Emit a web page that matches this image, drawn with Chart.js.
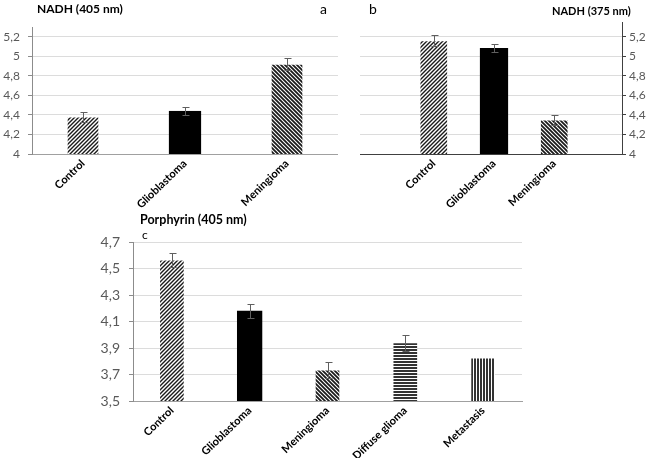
<!DOCTYPE html>
<html><head><meta charset="utf-8">
<script src="https://cdn.jsdelivr.net/npm/chart.js@4.4.1/dist/chart.umd.min.js"></script>
<style>
html,body{margin:0;padding:0;background:#fff;}
body{width:660px;height:458px;position:relative;overflow:hidden;font-family:Lato,'Liberation Sans',sans-serif;}
canvas{position:absolute;}
.t{position:absolute;white-space:nowrap;color:#000;font-family:Lato,'Liberation Sans',sans-serif;line-height:1;}
</style></head><body>
<canvas id="ca" width="338" height="215" style="left:0;top:0"></canvas>
<canvas id="cb" width="320" height="215" style="left:340px;top:0"></canvas>
<canvas id="cc" width="440" height="253" style="left:93px;top:205px"></canvas>
<div class="t" style="left:37px;top:3px;font-size:12px;font-weight:bold">NADH (405 nm)</div>
<div class="t" style="left:320px;top:2px;font-size:14px">a</div>
<div class="t" style="left:369px;top:2px;font-size:14px">b</div>
<div class="t" style="left:552px;top:5px;font-size:11px;font-weight:bold">NADH (375 nm)</div>
<div class="t" style="left:140px;top:214px;font-size:12.5px;font-weight:bold">Porphyrin (405 nm)</div>
<div class="t" style="left:142px;top:229px;font-size:12px">c</div>
<script>
// ---- data ----
const catsAB = ['Control', 'Glioblastoma', 'Meningioma'];
const nadh405 = [4.38, 4.44, 4.92];
const nadh405Err = [0.05, 0.045, 0.06];
const nadh375 = [5.16, 5.08, 4.35];
const nadh375Err = [0.055, 0.04, 0.05];
const nadhTicks = [4, 4.2, 4.4, 4.6, 4.8, 5, 5.2];

const catsC = ['Control', 'Glioblastoma', 'Meningioma', 'Diffuse glioma', 'Metastasis'];
const porphyrin = [4.565, 4.18, 3.735, 3.94, 3.825];
const porphyrinErr = [0.052, 0.055, 0.058, 0.06, 0];
const porphyrinTicks = [3.5, 3.7, 3.9, 4.1, 4.3, 4.5, 4.7];

const fillsAB = ['diagUp', 'solid', 'diagDown'];
const fillsC = ['diagUp', 'solid', 'diagDown', 'horiz', 'vert'];

// ---- helpers ----
function makePattern(ctx, type) {
  if (type === 'solid') return '#000';
  const s = (type === 'horiz' || type === 'vert') ? 3 : 4;
  const c = document.createElement('canvas'); c.width = s; c.height = s;
  const g = c.getContext('2d');
  g.fillStyle = '#fff'; g.fillRect(0, 0, s, s);
  g.fillStyle = '#333'; g.strokeStyle = '#1a1a1a';
  if (type === 'horiz') { g.fillRect(0, 0, s, 2); }
  else if (type === 'vert') { g.fillRect(0, 0, 2, s); }
  else if (type === 'diagUp') {
    g.lineWidth = 1.4; g.beginPath();
    g.moveTo(0, s); g.lineTo(s, 0); g.moveTo(-1, 1); g.lineTo(1, -1); g.moveTo(s - 1, s + 1); g.lineTo(s + 1, s - 1);
    g.stroke();
  } else if (type === 'diagDown') {
    g.lineWidth = 1.8; g.beginPath();
    g.moveTo(0, 0); g.lineTo(s, s); g.moveTo(-1, s - 1); g.lineTo(1, s + 1); g.moveTo(s - 1, -1); g.lineTo(s + 1, 1);
    g.stroke();
  }
  return ctx.createPattern(c, 'repeat');
}
const fmt = v => String(+(+v).toFixed(2)).replace('.', ',');
const FONT = "Lato, 'Liberation Sans', sans-serif";

const errorBars = {
  id: 'errorBars',
  afterDatasetsDraw(chart, args, opts) {
    const errs = opts.errors; if (!errs) return;
    const meta = chart.getDatasetMeta(0);
    const ys = chart.scales.y; const ctx = chart.ctx;
    const vals = chart.data.datasets[0].data;
    ctx.save(); ctx.strokeStyle = opts.color || '#5f5f5f'; ctx.lineWidth = 1;
    meta.data.forEach((el, i) => {
      const e = errs[i]; if (!e) return;
      const v = (typeof vals[i] === 'object') ? vals[i].y : vals[i];
      const x = Math.round(el.x) + 0.5;
      const yt = Math.round(ys.getPixelForValue(v + e)) + 0.5;
      const yb = Math.round(ys.getPixelForValue(v - e)) + 0.5;
      ctx.beginPath();
      ctx.moveTo(x, yt); ctx.lineTo(x, yb);
      ctx.moveTo(x - 3, yt); ctx.lineTo(x + 4, yt);
      ctx.moveTo(x - 3, yb); ctx.lineTo(x + 4, yb);
      ctx.stroke();
    });
    ctx.restore();
  }
};
Chart.register(errorBars);

function yAxis(ticksArr, max, pos, width, fontSize, pad, borderColor) {
  return {
    type: 'linear', position: pos, min: ticksArr[0], max: max,
    afterBuildTicks: s => { s.ticks = ticksArr.map(v => ({ value: v })); },
    afterFit: s => { s.width = width; },
    grid: { color: '#dcdcdc', tickColor: borderColor, tickLength: 4, drawTicks: true },
    border: { display: true, color: borderColor, width: 1 },
    ticks: { color: '#595959', font: { family: FONT, size: fontSize }, padding: pad, callback: v => fmt(v) }
  };
}
const xTicks = (extra) => Object.assign({ color: '#000', font: { family: FONT, size: 11, weight: 'bold' },
  minRotation: 44, maxRotation: 44, padding: 3 }, extra || {});
const xGrid = { display: false, drawTicks: false, tickLength: 0 };

const common = (errs, x, y, padding) => ({
  responsive: false, animation: false,
  layout: { padding: padding },
  plugins: { legend: { display: false }, tooltip: { enabled: false }, errorBars: { errors: errs } },
  scales: { x: x, y: y }
});

// Chart a
(function () {
  const ctx = document.getElementById('ca').getContext('2d');
  new Chart(ctx, {
    type: 'bar',
    data: { labels: catsAB, datasets: [{ data: nadh405,
      backgroundColor: fillsAB.map(f => makePattern(ctx, f)),
      borderColor: fillsAB.map(f => f === 'solid' ? '#000' : 'rgba(0,0,0,0)'), borderWidth: 1, barThickness: 32 }] },
    options: common(nadh405Err, { type: 'category', offset: true, afterFit: s => { s.height = 61; },
      grid: xGrid, border: { display: true, color: '#a0a0a0' }, ticks: xTicks()
    }, yAxis(nadhTicks, 5.3, 'left', 32, 12, 8, '#8c8c8c'), { top: 27, right: 0, left: 0, bottom: 0 })
  });
})();

// Chart b
(function () {
  const ctx = document.getElementById('cb').getContext('2d');
  new Chart(ctx, {
    type: 'bar',
    data: { datasets: [{ data: catsAB.map((c, i) => ({ x: i, y: nadh375[i] })),
      backgroundColor: fillsAB.map(f => makePattern(ctx, f)),
      borderColor: fillsAB.map(f => f === 'solid' ? '#000' : 'rgba(0,0,0,0)'), borderWidth: 1, barThickness: 28 }] },
    options: common(nadh375Err, { type: 'linear', min: -0.5, max: 2.4,
      afterBuildTicks: s => { s.ticks = catsAB.map((c, i) => ({ value: i })); },
      afterFit: s => { s.height = 61; },
      grid: xGrid, border: { display: true, color: '#404040' },
      ticks: xTicks({ callback: v => catsAB[Math.round(v)] })
    }, yAxis(nadhTicks, 5.35, 'right', 38, 12, 3, '#404040'), { top: 22, right: 0, left: 20, bottom: 0 })
  });
})();

// Chart c
(function () {
  const ctx = document.getElementById('cc').getContext('2d');
  new Chart(ctx, {
    type: 'bar',
    data: { labels: catsC, datasets: [{ data: porphyrin,
      backgroundColor: fillsC.map(f => makePattern(ctx, f)),
      borderColor: fillsC.map(f => f === 'solid' ? '#000' : 'rgba(0,0,0,0)'), borderWidth: 1, barThickness: 25 }] },
    options: common(porphyrinErr, { type: 'category', offset: true, afterFit: s => { s.height = 57; },
      grid: xGrid, border: { display: true, color: '#a0a0a0' }, ticks: xTicks()
    }, yAxis(porphyrinTicks, 4.7, 'left', 40, 14, 9, '#8c8c8c'), { top: 37, right: 11, left: 0, bottom: 0 })
  });
})();
</script>
</body></html>
